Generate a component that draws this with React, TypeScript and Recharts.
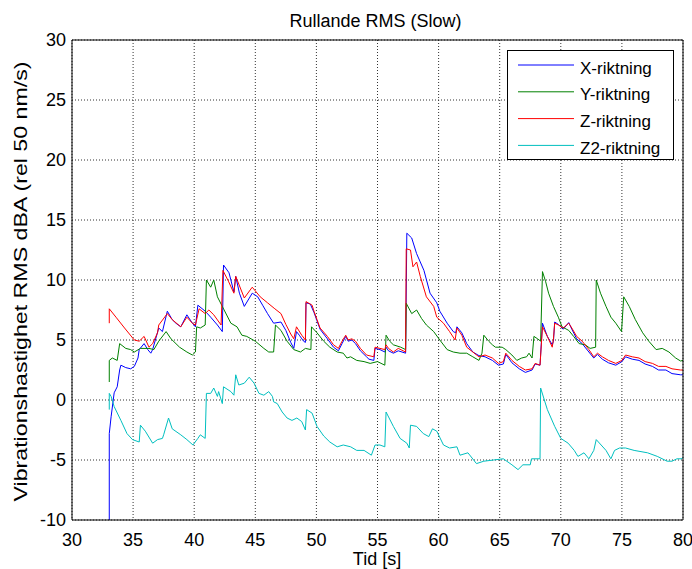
import { LineChart, Line, XAxis, YAxis, CartesianGrid, Legend } from 'recharts';

const xTicks = [30, 35, 40, 45, 50, 55, 60, 65, 70, 75, 80];
const yTicks = [-10, -5, 0, 5, 10, 15, 20, 25, 30];

// X-riktning
const xTid = [33.05, 33.05, 33.2, 33.45, 33.7, 33.9, 34.0, 34.4, 34.8, 35.1, 35.4, 35.5, 35.9, 36.2, 36.45, 36.6, 37.1, 37.4, 37.8, 38.2, 38.5, 38.9, 39.4, 39.85, 40.1, 40.3, 40.9, 41.35, 41.9, 42.3, 42.4, 42.85, 43.25, 43.4, 43.7, 44.1, 44.75, 45.2, 45.6, 46.0, 46.5, 47.1, 47.5, 47.9, 48.15, 48.37, 48.6, 48.95, 49.1, 49.15, 49.5, 49.8, 50.05, 50.3, 50.9, 51.4, 51.8, 52.1, 52.4, 52.6, 52.9, 53.2, 53.6, 54.1, 54.3, 54.7, 54.8, 55.2, 55.6, 55.7, 55.9, 56.3, 56.7, 57.3, 57.4, 57.8, 58.2, 58.8, 59.3, 59.85, 60.1, 60.7, 61.2, 61.4, 61.5, 61.9, 62.3, 62.8, 63.3, 63.8, 64.4, 64.9, 65.3, 65.5, 66.0, 66.6, 67.1, 67.65, 67.9, 68.3, 68.5, 68.9, 69.3, 69.4, 69.5, 69.8, 70.2, 70.65, 70.9, 71.3, 71.75, 72.3, 72.7, 73.0, 73.4, 73.9, 74.5, 75.0, 75.3, 75.85, 76.4, 76.9, 77.5, 78.0, 78.6, 79.1, 79.8, 80.0];
const xVal = [-10, -2.8, -1.4, 0.6, 1.1, 2.5, 2.9, 2.7, 2.6, 2.8, 3.5, 4.2, 4.7, 4.2, 3.9, 4.2, 6.0, 5.7, 7.4, 6.7, 6.4, 6.1, 7.1, 6.4, 6.1, 7.9, 7.4, 6.9, 6.25, 5.7, 11.25, 10.6, 9.0, 10.3, 8.9, 7.8, 8.9, 8.6, 7.9, 7.2, 6.4, 6.5, 5.8, 4.8, 4.3, 5.7, 5.4, 4.9, 4.8, 8.1, 8.0, 7.3, 6.6, 5.9, 5.1, 4.4, 4.1, 4.7, 5.3, 4.9, 5.0, 4.7, 4.1, 3.6, 3.4, 3.3, 4.3, 4.2, 4.0, 4.4, 4.1, 3.9, 4.1, 3.9, 13.9, 13.5, 12.2, 10.8, 8.9, 8.1, 7.4, 6.4, 5.7, 5.6, 6.1, 5.6, 4.7, 4.0, 3.7, 3.6, 3.3, 2.9, 3.0, 3.8, 3.1, 2.6, 2.3, 2.5, 3.0, 2.9, 6.4, 5.3, 4.6, 4.9, 6.5, 6.3, 5.9, 6.45, 5.9, 5.1, 4.7, 4.0, 3.5, 3.8, 3.4, 3.1, 2.9, 3.2, 3.6, 3.4, 3.3, 3.0, 2.8, 2.5, 2.5, 2.2, 2.1, 2.1];

// Y-riktning
const yTid = [33.05, 33.05, 33.3, 33.7, 33.9, 34.4, 34.8, 35.1, 35.6, 36.3, 36.7, 37.1, 37.7, 38.1, 38.8, 39.4, 39.85, 40.1, 40.2, 40.5, 40.9, 41.0, 41.35, 41.6, 41.9, 42.3, 43.0, 43.5, 43.9, 44.3, 45.0, 45.7, 46.1, 46.5, 46.65, 47.1, 47.6, 48.15, 48.7, 49.1, 49.55, 49.6, 50.05, 50.6, 51.1, 51.7, 52.2, 52.5, 52.8, 53.3, 53.9, 54.4, 55.0, 55.6, 55.7, 56.0, 56.3, 56.9, 57.3, 57.35, 57.8, 58.2, 58.6, 59.0, 59.6, 60.1, 60.7, 61.2, 61.75, 62.3, 62.8, 63.3, 63.55, 63.7, 64.1, 64.4, 64.65, 65.2, 65.5, 66.0, 66.4, 66.8, 67.2, 67.4, 67.65, 67.8, 68.1, 68.35, 68.5, 68.75, 69.0, 69.4, 69.8, 70.1, 70.65, 71.05, 71.5, 72.0, 72.4, 72.85, 72.9, 73.25, 73.7, 74.1, 74.5, 74.97, 75.15, 75.6, 76.1, 76.7, 77.2, 77.8, 78.3, 78.85, 79.4, 79.8, 80.0];
const yVal = [1.5, 3.3, 3.5, 3.3, 4.7, 4.3, 4.2, 4.0, 4.3, 4.3, 4.2, 4.9, 5.7, 5.1, 4.4, 4.0, 3.75, 4.0, 6.1, 6.0, 6.25, 10.0, 9.4, 10.0, 8.6, 7.8, 6.4, 6.1, 5.4, 5.3, 4.9, 4.3, 4.0, 4.0, 6.25, 5.8, 4.9, 4.2, 4.0, 4.3, 4.2, 6.1, 5.6, 4.9, 4.4, 4.0, 3.9, 3.5, 3.6, 3.3, 3.2, 3.05, 3.2, 2.9, 5.4, 4.9, 4.6, 4.4, 4.2, 8.06, 7.2, 7.5, 6.8, 6.25, 5.7, 5.0, 4.2, 4.0, 3.9, 3.9, 3.6, 3.3, 3.9, 5.4, 4.9, 4.6, 4.4, 4.4, 4.2, 3.75, 3.3, 3.5, 3.6, 3.9, 3.5, 5.3, 5.1, 4.9, 10.7, 9.9, 8.9, 7.8, 6.9, 6.1, 5.8, 5.3, 4.7, 4.6, 4.3, 4.4, 10.0, 8.9, 7.8, 6.9, 6.4, 5.7, 8.6, 7.8, 6.7, 5.6, 4.9, 4.2, 4.3, 4.0, 3.5, 3.25, 3.3];

// Z-riktning
const zTid = [33.05, 33.05, 33.6, 34.3, 35.1, 35.5, 35.9, 36.3, 36.6, 37.0, 37.1, 37.8, 38.2, 38.9, 39.4, 39.85, 40.1, 40.4, 40.9, 41.2, 41.6, 42.2, 42.35, 42.8, 43.25, 43.4, 44.1, 44.75, 45.4, 46.0, 46.6, 47.1, 47.5, 47.9, 48.15, 48.37, 48.8, 49.1, 49.15, 49.65, 49.8, 50.05, 50.3, 50.9, 51.4, 51.8, 52.1, 52.4, 52.6, 52.9, 53.2, 53.6, 54.1, 54.7, 54.8, 55.2, 55.6, 55.7, 55.9, 56.3, 56.7, 57.3, 57.35, 57.7, 57.9, 58.2, 58.5, 59.0, 59.6, 59.85, 60.4, 60.9, 61.35, 61.5, 61.9, 62.3, 62.8, 63.3, 63.8, 64.4, 64.9, 65.3, 65.5, 66.0, 66.6, 67.1, 67.65, 67.9, 68.3, 68.5, 68.9, 69.3, 69.4, 69.5, 69.8, 70.2, 70.65, 70.9, 71.3, 71.75, 72.3, 72.7, 73.0, 73.4, 73.9, 74.5, 75.0, 75.3, 75.85, 76.4, 76.9, 77.5, 78.0, 78.6, 79.1, 79.8, 80.0];
const zVal = [6.4, 7.6, 6.9, 6.0, 5.0, 4.9, 5.3, 4.4, 4.7, 5.6, 6.25, 7.2, 6.7, 6.1, 6.9, 6.4, 6.25, 7.6, 7.2, 7.5, 7.1, 6.25, 10.8, 9.9, 8.9, 10.3, 8.5, 9.4, 8.6, 8.1, 7.6, 7.2, 6.3, 5.5, 5.1, 6.1, 5.4, 5.0, 8.2, 7.9, 7.4, 6.7, 6.0, 5.3, 4.6, 4.3, 4.9, 5.4, 5.0, 5.1, 4.9, 4.3, 3.75, 3.6, 4.4, 4.3, 4.2, 4.6, 4.3, 4.0, 4.3, 4.0, 12.6, 12.5, 11.1, 11.5, 10.3, 8.6, 7.8, 6.9, 6.4, 5.7, 5.0, 6.0, 5.4, 4.4, 4.0, 3.6, 3.75, 3.5, 3.05, 3.2, 3.9, 3.3, 2.8, 2.5, 2.6, 3.05, 2.9, 6.1, 5.3, 4.4, 5.1, 6.4, 6.25, 6.0, 6.4, 6.0, 5.3, 4.9, 4.2, 3.6, 3.9, 3.6, 3.3, 3.05, 3.3, 3.75, 3.6, 3.5, 3.2, 3.05, 2.8, 2.8, 2.6, 2.5, 2.5];

// Z2-riktning
const z2Tid = [33.05, 33.05, 33.2, 33.45, 34.0, 34.5, 34.95, 35.5, 35.6, 36.0, 36.6, 37.0, 37.4, 37.5, 37.9, 38.2, 38.9, 39.4, 39.9, 40.3, 40.5, 40.9, 41.0, 41.35, 41.6, 41.9, 42.0, 42.3, 42.4, 43.0, 43.25, 43.4, 43.65, 44.1, 44.5, 44.9, 45.3, 45.7, 46.1, 46.4, 46.5, 46.8, 47.2, 47.6, 48.0, 48.4, 48.8, 49.1, 49.2, 49.65, 50.05, 50.6, 51.1, 51.7, 52.2, 52.8, 53.3, 53.9, 54.5, 54.8, 55.2, 55.6, 55.7, 56.3, 56.85, 57.4, 57.6, 57.7, 58.2, 58.75, 59.2, 59.5, 59.85, 60.4, 60.9, 61.5, 61.75, 62.4, 63.1, 63.7, 64.5, 65.3, 66.0, 66.5, 66.9, 67.5, 67.6, 68.3, 68.35, 68.9, 69.5, 70.0, 70.6, 71.1, 71.4, 71.9, 72.3, 72.7, 72.9, 73.3, 73.7, 74.1, 74.4, 74.8, 75.3, 76.0, 77.1, 77.9, 78.7, 79.1, 79.5, 79.85, 80.0];
const z2Val = [-0.8, 0.55, 0.3, -0.55, -1.7, -2.8, -3.3, -3.5, -2.1, -2.6, -3.6, -3.3, -3.2, -2.9, -1.5, -2.4, -2.9, -3.3, -3.75, -3.2, -2.9, -3.2, 0.55, 0.55, 1.0, 0.3, 0.7, -0.3, 1.1, 0.7, 0.4, 2.1, 1.25, 1.4, 1.9, 1.4, 0.55, 0.4, 0.7, 0.3, -0.15, -0.3, -1.0, -1.5, -1.7, -1.5, -1.8, -2.5, -0.8, -1.1, -2.2, -3.0, -3.5, -3.9, -3.75, -3.9, -4.2, -4.2, -4.6, -3.75, -3.75, -3.9, -1.0, -2.2, -3.2, -3.6, -4.0, -2.1, -2.2, -2.8, -3.05, -2.4, -2.6, -3.75, -4.0, -3.9, -4.6, -4.4, -5.3, -5.1, -5.0, -4.9, -5.4, -5.8, -5.4, -5.4, -4.9, -4.9, 1.0, -0.8, -2.2, -3.2, -3.6, -4.2, -4.7, -4.4, -4.9, -4.2, -3.3, -3.75, -4.2, -4.9, -4.2, -4.0, -4.0, -4.2, -4.4, -4.7, -5.1, -5.1, -4.9, -4.9, -4.8];

const toPoints = (tid: number[], val: number[]) => tid.map((t, i) => ({ t, v: val[i] }));

const series = [
  { name: 'X-riktning', color: '#0000ff', data: toPoints(xTid, xVal) },
  { name: 'Y-riktning', color: '#008000', data: toPoints(yTid, yVal) },
  { name: 'Z-riktning', color: '#ff0000', data: toPoints(zTid, zVal) },
  { name: 'Z2-riktning', color: '#00bfbf', data: toPoints(z2Tid, z2Val) },
];

const FONT = "'Liberation Sans', Arial, sans-serif";

const renderLegend = (props: any) => {
  const payload = props.payload || [];
  return (
    <svg width={167} height={110} style={{ display: 'block', fontFamily: FONT }}>
      <rect x={0.5} y={0.5} width={166} height={109} fill="#fff" stroke="#000" />
      {payload.map((entry: any, i: number) => (
        <g key={entry.value}>
          <line x1={11} x2={67} y1={15 + i * 26.8} y2={15 + i * 26.8} stroke={entry.color} strokeWidth={1} />
          <text x={73} y={23.5 + i * 26.8} fontSize={17} fill="#000">
            {entry.value}
          </text>
        </g>
      ))}
    </svg>
  );
};

const tickStyle = { fontSize: 18, fill: '#000', fontFamily: FONT };

export default function App() {
  return (
    <div style={{ position: 'absolute', left: 0, top: 0, width: 692, height: 569, background: '#fff', fontFamily: FONT }}>
      <LineChart width={692} height={569} margin={{ top: 40, right: 9, bottom: 19, left: 12 }}>
        <CartesianGrid stroke="#333" strokeDasharray="1 2" />
        <XAxis
          xAxisId={0}
          dataKey="t"
          type="number"
          domain={[30, 80]}
          ticks={xTicks}
          allowDataOverflow
          height={30}
          tickLine={false}
          tickSize={0}
          tickMargin={13}
          tick={tickStyle}
          axisLine={{ stroke: '#000' }}
        />
        <XAxis xAxisId="bin" type="number" domain={[30, 80]} ticks={xTicks} allowDataOverflow orientation="bottom" mirror tick={false} tickSize={5} axisLine={false} tickLine={{ stroke: '#000' }} />
        <XAxis xAxisId="top" type="number" domain={[30, 80]} ticks={xTicks} allowDataOverflow orientation="top" mirror tick={false} tickSize={5} axisLine={{ stroke: '#000' }} tickLine={{ stroke: '#000' }} />
        <YAxis
          yAxisId={0}
          type="number"
          domain={[-10, 30]}
          ticks={yTicks}
          allowDataOverflow
          width={60}
          tickLine={false}
          tickSize={0}
          tickMargin={6}
          tick={tickStyle}
          axisLine={{ stroke: '#000' }}
        />
        <YAxis yAxisId="lin" type="number" domain={[-10, 30]} ticks={yTicks} allowDataOverflow orientation="left" mirror tick={false} tickSize={5} axisLine={false} tickLine={{ stroke: '#000' }} />
        <YAxis yAxisId="right" type="number" domain={[-10, 30]} ticks={yTicks} allowDataOverflow orientation="right" mirror tick={false} tickSize={5} axisLine={{ stroke: '#000' }} tickLine={{ stroke: '#000' }} />
        {series.map((s) => (
          <Line
            key={s.name}
            data={s.data}
            dataKey="v"
            name={s.name}
            type="linear"
            stroke={s.color}
            strokeWidth={1}
            dot={false}
            activeDot={false}
            isAnimationActive={false}
          />
        ))}
        <Legend
          layout="vertical"
          align="center"
          verticalAlign="middle"
          content={renderLegend}
          wrapperStyle={{ left: 507, top: 50, width: 167, height: 110 }}
        />
      </LineChart>
      <svg width={692} height={569} style={{ position: 'absolute', left: 0, top: 0, pointerEvents: 'none' }}>
        <text x={375.5} y={26.5} textAnchor="middle" fontSize={18} fill="#000">
          Rullande RMS (Slow)
        </text>
        <text x={377} y={565} textAnchor="middle" fontSize={18} fill="#000">
          Tid [s]
        </text>
        <text
          transform="translate(26.5,281.5) rotate(-90)"
          textAnchor="middle"
          fontSize={19}
          fill="#000"
          textLength={440}
          lengthAdjust="spacingAndGlyphs"
        >
          Vibrationshastighet RMS dBA (rel 50 nm/s)
        </text>
      </svg>
    </div>
  );
}
